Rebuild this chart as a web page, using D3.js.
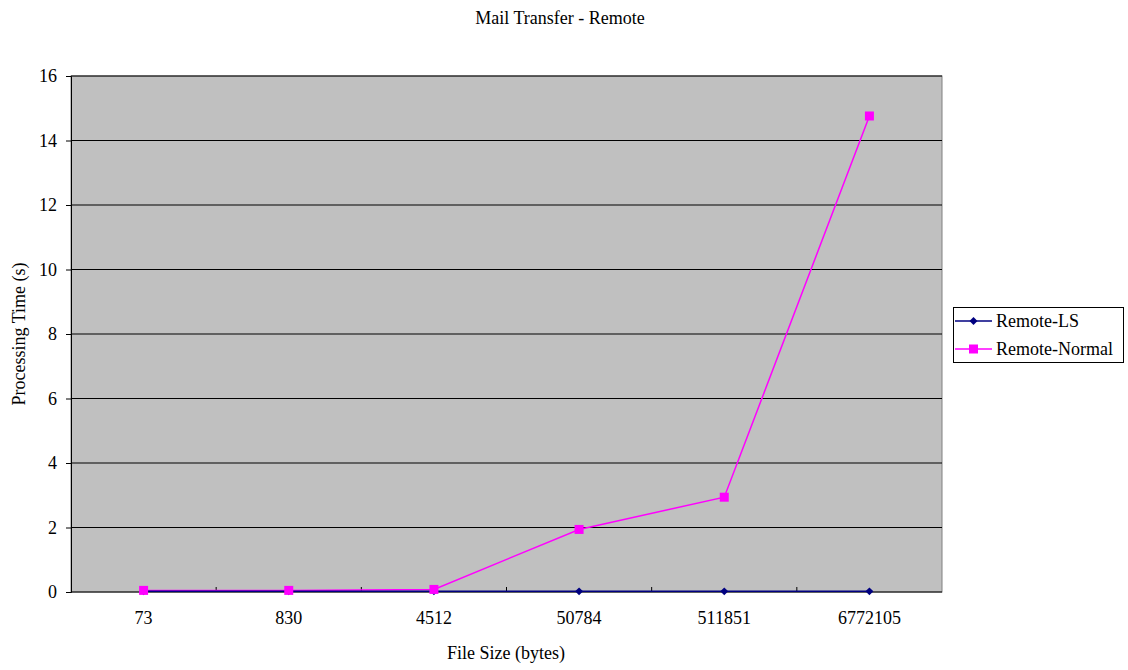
<!DOCTYPE html>
<html><head><meta charset="utf-8">
<script src="https://cdn.jsdelivr.net/npm/d3@7"></script>
<style>body{margin:0;background:#fff}svg text{font-family:"Liberation Serif","Times New Roman",Times,"DejaVu Serif",serif !important;fill:#000}</style>
</head><body><svg id="c" width="1128" height="670"></svg>
<script>
const categories = ["73","830","4512","50784","511851","6772105"];
const remoteLS = [0.02,0.02,0.02,0.02,0.02,0.02];
const remoteNormal = [0.05,0.05,0.08,1.94,2.94,14.76];
const yTicks = [0,2,4,6,8,10,12,14,16];
const seriesNames = ["Remote-LS","Remote-Normal"];
const FS = "18px";

const svg = d3.select("#c");
const L=71,R=942,T=76,B=592;
const x = d3.scaleBand().domain(categories).range([L,R]);
const y = d3.scaleLinear().domain([0,16]).range([B,T]);

svg.append("rect").attr("x",L).attr("y",T).attr("width",R-L).attr("height",B-T).attr("fill","#C0C0C0").attr("stroke","#808080");
svg.append("g").selectAll("line").data(yTicks.slice(1)).join("line")
  .attr("x1",L).attr("x2",R).attr("y1",d=>y(d)).attr("y2",d=>y(d)).attr("stroke","#000").attr("stroke-width",1);

const ya = svg.append("g").attr("transform",`translate(${L},0)`).call(d3.axisLeft(y).tickValues(yTicks).tickSize(5).tickPadding(9));
ya.attr("font-family",null);
ya.selectAll("text").style("font-size",FS);
ya.select(".domain").attr("stroke","#000");
ya.selectAll("line").attr("stroke","#000");

const xa = svg.append("g").attr("transform",`translate(0,${B})`).call(d3.axisBottom(x).tickSize(0).tickPadding(19));
xa.attr("font-family",null);
xa.selectAll("text").style("font-size",FS);
xa.select(".domain").attr("stroke","#000").attr("d",`M${L},0H${R}`);
svg.append("g").selectAll("line").data(categories.slice(1)).join("line")
  .attr("x1",d=>x(d)).attr("x2",d=>x(d)).attr("y1",B).attr("y2",B-5).attr("stroke","#000");

const cx = d=>x(d)+x.bandwidth()/2;
const line = d3.line().x((d,i)=>cx(categories[i])).y(d=>y(d));
svg.append("path").datum(remoteNormal).attr("d",line).attr("fill","none").attr("stroke","#FF00FF").attr("stroke-width",1.5);
svg.append("path").datum(remoteLS).attr("d",line).attr("fill","none").attr("stroke","#000080").attr("stroke-width",1.5);
svg.append("g").selectAll("path").data(remoteLS).join("path")
  .attr("d",d3.symbol(d3.symbolDiamond2,40)).attr("transform",(d,i)=>`translate(${cx(categories[i])},${y(d)})`).attr("fill","#000080");
svg.append("g").selectAll("rect").data(remoteNormal).join("rect")
  .attr("x",(d,i)=>cx(categories[i])-4.5).attr("y",d=>y(d)-4.5).attr("width",9).attr("height",9).attr("fill","#FF00FF");

svg.append("text").attr("x",560).attr("y",24).attr("text-anchor","middle").style("font-size",FS).text("Mail Transfer - Remote");
svg.append("text").attr("x",506).attr("y",659).attr("text-anchor","middle").style("font-size",FS).text("File Size (bytes)");
svg.append("text").attr("transform","translate(25,334) rotate(-90)").attr("text-anchor","middle").style("font-size",FS).text("Processing Time (s)");

const lg = svg.append("g");
lg.append("rect").attr("x",953.5).attr("y",307.5).attr("width",170).attr("height",55).attr("fill","#fff").attr("stroke","#000");
const colors=["#000080","#FF00FF"];
seriesNames.forEach((n,i)=>{
  const yy = 321+i*28;
  lg.append("line").attr("x1",955).attr("x2",992).attr("y1",yy).attr("y2",yy).attr("stroke",colors[i]).attr("stroke-width",1.5);
  if(i===0) lg.append("path").attr("d",d3.symbol(d3.symbolDiamond2,40)).attr("transform",`translate(973.5,${yy})`).attr("fill",colors[i]);
  else lg.append("rect").attr("x",969).attr("y",yy-4.5).attr("width",9).attr("height",9).attr("fill",colors[i]);
  lg.append("text").attr("x",996).attr("y",yy+6).style("font-size",FS).text(n);
});
</script></body></html>
